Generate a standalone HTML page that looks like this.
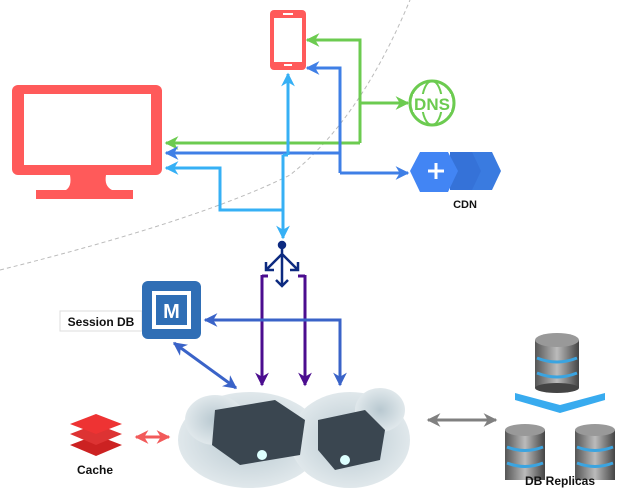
<!DOCTYPE html>
<html><head><style>body{margin:0;background:#fff}svg{display:block}text{font-family:"Liberation Sans",sans-serif;font-weight:bold}</style></head><body>
<svg width="621" height="492" viewBox="0 0 621 492" xmlns="http://www.w3.org/2000/svg">
<defs>
<marker id="a" viewBox="0 0 10 10" refX="9" refY="5" markerWidth="4.6" markerHeight="4.6" orient="auto-start-reverse"><path d="M0,0L10,5L0,10L3,5Z" fill="context-stroke"/></marker>
<radialGradient id="cl" cx="50%" cy="50%" r="55%"><stop offset="0" stop-color="#b8c8d0"/><stop offset="1" stop-color="#e4ebee"/></radialGradient>
<linearGradient id="db" x1="0" x2="1"><stop offset="0" stop-color="#555"/><stop offset=".5" stop-color="#bbb"/><stop offset="1" stop-color="#444"/></linearGradient>
</defs>
<path d="M0,270 Q200,220 290,175 Q360,120 410,0" fill="none" stroke="#bbb" stroke-dasharray="4,3" stroke-width="1"/>
<!-- monitor -->
<rect x="12" y="85" width="150" height="90" rx="6" fill="#FF5A5A"/>
<rect x="24" y="94" width="127" height="71" fill="#fff"/>
<path d="M70,175H106Q104,186 112,190H66Q72,186 70,175Z" fill="#FF5A5A"/>
<rect x="36" y="190" width="97" height="9" fill="#FF5A5A"/>
<!-- phone -->
<rect x="270" y="10" width="36" height="60" rx="4" fill="#FF5A5A"/>
<rect x="274" y="18" width="28" height="44" fill="#fff"/>
<rect x="283" y="13" width="10" height="2" fill="#fff"/><rect x="284" y="64" width="8" height="2" fill="#fff"/>
<!-- lines -->
<g fill="none" stroke-width="3">
<path d="M360,103H408" stroke="#6CCB50" marker-end="url(#a)"/>
<path d="M360,143V40H307" stroke="#6CCB50" marker-end="url(#a)"/>
<path d="M360,143H166" stroke="#6CCB50" marker-end="url(#a)"/>
<path d="M340,173V68H307" stroke="#3F7FE6" marker-end="url(#a)"/>
<path d="M340,173H408" stroke="#3F7FE6" marker-end="url(#a)"/>
<path d="M340,153H166" stroke="#3F7FE6" marker-end="url(#a)"/>
<path d="M288,155V74" stroke="#36B0F5" marker-end="url(#a)"/>
<path d="M283,155H288M283,155V238" stroke="#36B0F5" marker-end="url(#a)"/>
<path d="M283,210H220V168H166" stroke="#36B0F5" marker-end="url(#a)"/>
<path d="M262,275V385" stroke="#4B0D8F" marker-end="url(#a)"/>
<path d="M305,275V385" stroke="#4B0D8F" marker-end="url(#a)"/>
<path d="M262,276H268M305,276H298" stroke="#4B0D8F"/>
<path d="M205,320H340V385" stroke="#3A63C8" marker-start="url(#a)" marker-end="url(#a)"/>
<path d="M174,343L236,388" stroke="#3A63C8" marker-start="url(#a)" marker-end="url(#a)"/>
<path d="M136,437H169" stroke="#F25A5A" marker-start="url(#a)" marker-end="url(#a)"/>
<path d="M428,420H496" stroke="#808080" marker-start="url(#a)" marker-end="url(#a)"/>
</g>
<!-- load balancer -->
<g stroke="#0D2A80" stroke-width="2.5" fill="none">
<circle cx="282" cy="245" r="3" fill="#0D2A80"/>
<path d="M282,248V286M282,254L266,270M282,254L298,270M266,262V270H274M298,262V270H290M276,280L282,286L288,280"/>
</g>
<!-- DNS -->
<circle cx="432" cy="103" r="22" fill="none" stroke="#6CCB50" stroke-width="3"/>
<ellipse cx="432" cy="103" rx="10" ry="22" fill="none" stroke="#6CCB50" stroke-width="2"/>
<rect x="413" y="94" width="38" height="18" fill="#fff"/>
<text x="432" y="110" font-size="17" fill="#6CCB50" text-anchor="middle">DNS</text>
<!-- CDN -->
<path d="M470,152H492L501,171L492,190H470Z" fill="#3A7BE0"/>
<path d="M450,152H472L481,171L472,190H450Z" fill="#3572D8"/>
<path d="M420,152H448L458,171L448,192H420L410,171Z" fill="#4285F4"/>
<path d="M428,171h16M436,163v16" stroke="#fff" stroke-width="3"/>
<text x="465" y="208" font-size="11" fill="#111" text-anchor="middle">CDN</text>
<!-- Session DB -->
<rect x="60" y="311" width="82" height="20" fill="#fff" stroke="#ddd"/>
<text x="101" y="326" font-size="12" fill="#111" text-anchor="middle">Session DB</text>
<rect x="142" y="281" width="59" height="58" rx="6" fill="#2F6EB5"/>
<rect x="152" y="291" width="39" height="38" fill="#fff"/>
<rect x="156" y="295" width="31" height="30" fill="#2F6EB5"/>
<text x="171.5" y="318" font-size="20" fill="#fff" text-anchor="middle">M</text>
<!-- cloud -->
<g fill="url(#cl)">
<ellipse cx="250" cy="440" rx="72" ry="48"/><ellipse cx="350" cy="440" rx="60" ry="48"/>
<ellipse cx="215" cy="420" rx="30" ry="25"/><ellipse cx="380" cy="410" rx="25" ry="22"/>
</g>
<path d="M215,410L275,400L305,420L300,455L240,465L212,445Z" fill="#3a4650"/>
<path d="M318,420L365,410L385,430L380,460L335,470L318,450Z" fill="#3a4650"/>
<circle cx="262" cy="455" r="5" fill="#dff"/><circle cx="345" cy="460" r="5" fill="#dff"/>
<!-- Cache -->
<path d="M70,445L96,435L122,445L96,456Z" fill="#C22"/>
<path d="M70,434L96,424L122,434L96,445Z" fill="#D33"/>
<path d="M70,424L96,414L122,424L96,434Z" fill="#E33"/>
<text x="95" y="474" font-size="12" fill="#111" text-anchor="middle">Cache</text>
<!-- DBs -->
<g>
<rect x="535" y="340" width="44" height="48" fill="url(#db)"/><ellipse cx="557" cy="340" rx="22" ry="7" fill="#999"/><ellipse cx="557" cy="388" rx="22" ry="5" fill="#444"/>
<path d="M537,358Q557,366 577,358M537,373Q557,381 577,373" stroke="#3BA4E0" stroke-width="3" fill="none"/>
<path d="M515,393L560,405L605,393L605,400L560,413L515,400Z" fill="#38ABEF"/>
<rect x="505" y="430" width="40" height="50" fill="url(#db)"/><ellipse cx="525" cy="430" rx="20" ry="6" fill="#999"/>
<path d="M507,447Q525,454 543,447M507,463Q525,470 543,463" stroke="#3BA4E0" stroke-width="3" fill="none"/>
<rect x="575" y="430" width="40" height="50" fill="url(#db)"/><ellipse cx="595" cy="430" rx="20" ry="6" fill="#999"/>
<path d="M577,447Q595,454 613,447M577,463Q595,470 613,463" stroke="#3BA4E0" stroke-width="3" fill="none"/>
</g>
<text x="560" y="485" font-size="12" fill="#111" text-anchor="middle">DB Replicas</text>
</svg>
</body></html>
